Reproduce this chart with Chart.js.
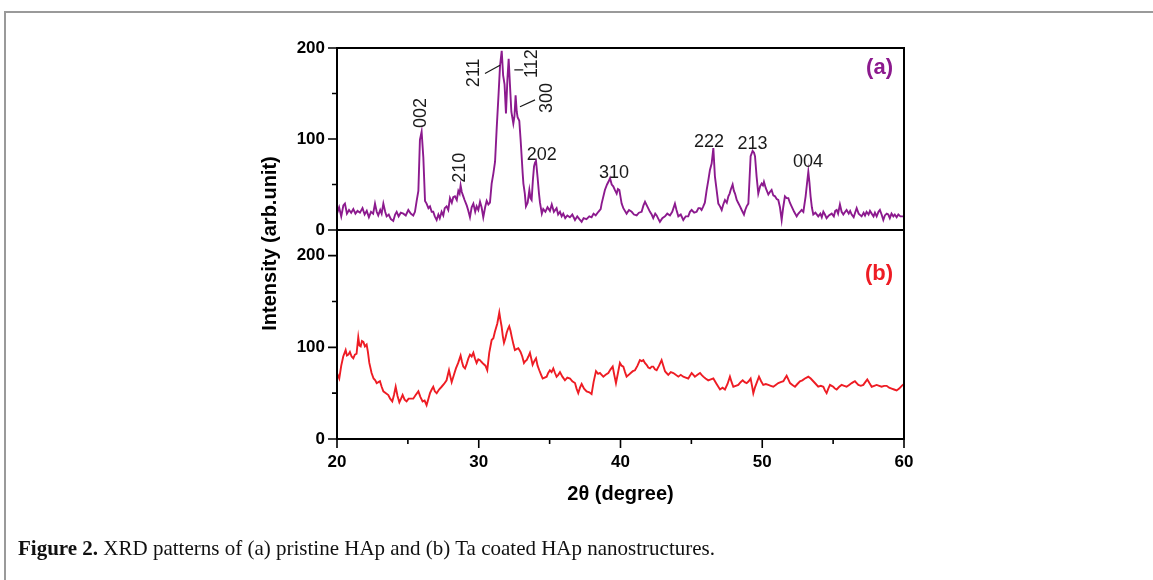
<!DOCTYPE html>
<html>
<head>
<meta charset="utf-8">
<script src="https://cdn.jsdelivr.net/npm/chart.js@4.4.1/dist/chart.umd.min.js"></script>
<style>
    html, body { margin: 0; padding: 0; background: #fff; }
    body { width: 1153px; height: 580px; position: relative; overflow: hidden; }
    #frame { position: absolute; left: 4px; top: 11px; width: 1200px; height: 600px; border-top: 2px solid #9a9a9a; border-left: 2px solid #9a9a9a; }
    #xrd { position: absolute; left: 0; top: 0; }
    #caption { position: absolute; left: 18px; top: 536px; font-family: 'Liberation Serif', 'Times New Roman', serif; font-size: 21px; color: #111; white-space: nowrap; }
</style>
</head>
<body>
<div id="frame"></div>
<canvas id="xrd" width="1153" height="580"></canvas>
<div id="caption"><b>Figure 2.</b> XRD patterns of (a) pristine HAp and (b) Ta coated HAp nanostructures.</div>
<script>
// (a) pristine HAp
const topAngle = [
    20.0, 20.15, 20.3, 20.45, 20.56, 20.7, 20.85, 21.0, 21.15, 21.3, 21.45, 21.62, 21.8, 21.95, 22.1, 22.25, 22.4, 22.55, 22.68, 22.8,
    22.91, 23.05, 23.15, 23.27, 23.4, 23.5, 23.65, 23.8, 23.97, 24.1, 24.21, 24.35, 24.5, 24.68, 24.85, 25.03, 25.2, 25.38, 25.5, 25.62,
    25.74, 25.85, 25.97, 26.09, 26.21, 26.32, 26.45, 26.56, 26.68, 26.79, 26.9, 27.03, 27.15, 27.25, 27.38, 27.5, 27.6, 27.73, 27.85, 27.97,
    28.1, 28.2, 28.32, 28.45, 28.56, 28.65, 28.72, 28.8, 28.91, 29.0, 29.15, 29.25, 29.38, 29.5, 29.62, 29.75, 29.85, 29.97, 30.09, 30.2,
    30.32, 30.45, 30.56, 30.68, 30.79, 30.91, 31.03, 31.15, 31.27, 31.4, 31.5, 31.62, 31.72, 31.82, 31.92, 32.02, 32.11, 32.2, 32.3, 32.44,
    32.52, 32.6, 32.68, 32.74, 32.86, 32.95, 33.03, 33.1, 33.15, 33.25, 33.33, 33.45, 33.57, 33.65, 33.73, 33.82, 33.9, 33.97, 34.04, 34.15,
    34.25, 34.32, 34.45, 34.55, 34.7, 34.85, 35.02, 35.15, 35.3, 35.49, 35.6, 35.73, 35.85, 35.96, 36.1, 36.25, 36.43, 36.6, 36.79, 36.95,
    37.1, 37.26, 37.4, 37.6, 37.8, 37.96, 38.1, 38.25, 38.44, 38.6, 38.67, 38.9, 39.05, 39.15, 39.26, 39.38, 39.49, 39.6, 39.73, 39.82,
    39.92, 40.08, 40.2, 40.43, 40.6, 40.79, 40.95, 41.14, 41.3, 41.49, 41.62, 41.73, 41.89, 42.08, 42.2, 42.31, 42.45, 42.55, 42.68, 42.78,
    42.95, 43.14, 43.3, 43.49, 43.65, 43.84, 43.95, 44.08, 44.25, 44.43, 44.6, 44.78, 44.9, 45.02, 45.2, 45.37, 45.5, 45.61, 45.72, 45.84,
    45.95, 46.08, 46.2, 46.31, 46.43, 46.55, 46.66, 46.78, 46.9, 47.02, 47.14, 47.25, 47.37, 47.5, 47.61, 47.7, 47.77, 47.91, 48.0, 48.08,
    48.2, 48.3, 48.43, 48.55, 48.71, 48.8, 48.9, 49.02, 49.1, 49.18, 49.32, 49.42, 49.49, 49.6, 49.72, 49.85, 49.96, 50.05, 50.12, 50.25,
    50.43, 50.55, 50.66, 50.78, 50.9, 51.02, 51.13, 51.25, 51.37, 51.48, 51.6, 51.72, 51.84, 51.95, 52.07, 52.25, 52.43, 52.55, 52.66, 52.78,
    52.9, 53.06, 53.15, 53.25, 53.33, 53.41, 53.5, 53.6, 53.75, 53.95, 54.1, 54.2, 54.31, 54.42, 54.54, 54.7, 54.9, 55.05, 55.15, 55.25,
    55.35, 55.48, 55.6, 55.72, 55.85, 55.95, 56.1, 56.2, 56.31, 56.45, 56.55, 56.66, 56.8, 57.01, 57.15, 57.25, 57.36, 57.5, 57.6, 57.72,
    57.85, 57.95, 58.07, 58.2, 58.3, 58.42, 58.54, 58.65, 58.78, 58.89, 59.0, 59.12, 59.25, 59.35, 59.48, 59.6, 59.75, 59.88, 60.0
];
const topIntensity = [
    18, 25, 15, 27, 29, 18, 22, 19, 23, 18, 21, 19, 24, 17, 21, 14, 20, 18, 29, 20,
    16, 22, 18, 29, 20, 15, 17, 12, 10, 17, 20, 15, 19, 18, 16, 22, 18, 16, 20, 32,
    43, 99, 108, 80, 32, 29, 24, 26, 20, 20, 15, 11, 17, 13, 20, 16, 24, 26, 22, 35,
    30, 36, 37, 33, 43, 40, 49, 42, 37, 33, 27, 22, 14, 25, 29, 20, 26, 22, 31, 25,
    14, 25, 32, 28, 30, 51, 62, 75, 113, 150, 180, 197, 170, 160, 128, 165, 188, 160, 130, 117,
    125, 148, 130, 124, 120, 100, 80, 62, 51, 40, 26, 30, 44, 35, 33, 55, 70, 74, 76, 58,
    40, 30, 18, 23, 20, 25, 21, 28, 20, 24, 17, 20, 15, 18, 13, 16, 14, 17, 11, 15,
    12, 9, 13, 12, 15, 14, 18, 16, 20, 23, 29, 44, 50, 53, 57, 50, 48, 44, 40, 45,
    44, 29, 24, 18, 22, 20, 17, 16, 19, 20, 27, 31, 26, 20, 17, 13, 18, 16, 12, 9,
    13, 15, 18, 16, 20, 29, 22, 15, 17, 11, 15, 15, 20, 22, 19, 20, 24, 24, 22, 26,
    30, 44, 55, 66, 73, 90, 59, 44, 29, 26, 22, 28, 33, 30, 37, 40, 44, 50, 43, 40,
    33, 30, 26, 22, 17, 22, 26, 29, 55, 81, 87, 85, 81, 59, 40, 48, 51, 49, 53, 46,
    39, 42, 44, 38, 37, 34, 33, 25, 11, 25, 37, 35, 35, 30, 26, 20, 15, 18, 20, 22,
    20, 37, 50, 64, 52, 37, 25, 17, 19, 15, 18, 14, 20, 17, 13, 16, 18, 15, 21, 22,
    18, 28, 20, 17, 20, 22, 18, 21, 17, 14, 19, 24, 18, 15, 19, 16, 20, 17, 21, 18,
    15, 19, 15, 20, 22, 17, 11, 16, 18, 17, 13, 18, 15, 17, 14, 17, 15, 15, 15
];

// (b) Ta coated HAp
const bottomAngle = [
    20.0, 20.16, 20.3, 20.44, 20.61, 20.7, 20.8, 20.91, 21.03, 21.15, 21.26, 21.38, 21.5, 21.58, 21.67, 21.76, 21.86, 21.97, 22.09, 22.18,
    22.28, 22.44, 22.58, 22.7, 22.8, 22.92, 23.03, 23.15, 23.27, 23.45, 23.62, 23.75, 23.9, 24.02, 24.14, 24.27, 24.4, 24.52, 24.63, 24.77,
    24.91, 25.05, 25.2, 25.38, 25.55, 25.74, 25.88, 26.04, 26.18, 26.32, 26.45, 26.56, 26.68, 26.79, 26.9, 27.03, 27.2, 27.38, 27.55, 27.73,
    27.82, 27.9, 28.0, 28.09, 28.25, 28.39, 28.55, 28.72, 28.82, 28.91, 29.03, 29.15, 29.27, 29.38, 29.5, 29.62, 29.73, 29.85, 29.97, 30.09,
    30.2, 30.32, 30.47, 30.6, 30.74, 30.91, 31.03, 31.14, 31.31, 31.45, 31.53, 31.61, 31.7, 31.78, 31.88, 31.97, 32.06, 32.15, 32.24, 32.32,
    32.45, 32.55, 32.67, 32.79, 32.87, 32.95, 33.07, 33.19, 33.28, 33.38, 33.5, 33.61, 33.7, 33.8, 33.92, 34.04, 34.15, 34.27, 34.4, 34.51,
    34.65, 34.79, 34.9, 35.02, 35.14, 35.26, 35.38, 35.49, 35.61, 35.73, 35.9, 36.08, 36.25, 36.44, 36.6, 36.79, 36.9, 37.02, 37.14, 37.26,
    37.43, 37.61, 37.8, 37.96, 38.1, 38.27, 38.42, 38.55, 38.67, 38.79, 38.95, 39.14, 39.3, 39.45, 39.56, 39.68, 39.82, 39.96, 40.08, 40.2,
    40.32, 40.43, 40.58, 40.72, 40.87, 41.02, 41.2, 41.37, 41.5, 41.61, 41.72, 41.84, 41.96, 42.08, 42.2, 42.31, 42.43, 42.55, 42.72, 42.9,
    43.02, 43.14, 43.25, 43.37, 43.55, 43.73, 43.9, 44.08, 44.25, 44.43, 44.6, 44.78, 44.9, 45.02, 45.14, 45.25, 45.43, 45.61, 45.72, 45.84,
    46.0, 46.19, 46.37, 46.55, 46.78, 47.02, 47.2, 47.37, 47.55, 47.72, 47.84, 47.96, 48.13, 48.31, 48.47, 48.62, 48.76, 48.9, 49.04, 49.18,
    49.28, 49.37, 49.48, 49.6, 49.77, 49.92, 50.07, 50.25, 50.43, 50.6, 50.78, 50.95, 51.13, 51.3, 51.49, 51.6, 51.72, 51.84, 51.96, 52.13,
    52.31, 52.48, 52.66, 52.83, 53.01, 53.13, 53.25, 53.42, 53.6, 53.78, 53.95, 54.13, 54.31, 54.42, 54.54, 54.66, 54.78, 54.9, 55.01, 55.13,
    55.25, 55.43, 55.6, 55.78, 55.95, 56.13, 56.31, 56.42, 56.54, 56.66, 56.78, 56.95, 57.13, 57.27, 57.41, 57.56, 57.72, 57.9, 58.07, 58.25,
    58.42, 58.6, 58.78, 58.95, 59.13, 59.3, 59.48, 59.66, 59.84, 60.0
];
const bottomIntensity = [
    72, 66, 80, 90, 97, 91, 92, 95, 90, 88, 92, 93, 111, 102, 101, 107, 106, 101, 103, 95,
    83, 72, 66, 64, 61, 62, 63, 57, 52, 50, 48, 44, 41, 48, 57, 47, 40, 44, 48, 43,
    41, 44, 44, 44, 48, 52, 46, 41, 42, 37, 44, 50, 54, 57, 52, 50, 54, 57, 60, 64,
    70, 75, 68, 62, 70, 77, 83, 91, 84, 79, 77, 82, 88, 92, 90, 94, 88, 83, 87, 86,
    84, 82, 80, 75, 94, 108, 110, 117, 126, 138, 130, 123, 112, 105, 110, 116, 120, 123, 118, 112,
    103, 97, 98, 99, 97, 95, 90, 83, 85, 86, 90, 94, 88, 81, 85, 88, 80, 75, 70, 66,
    67, 68, 72, 75, 73, 77, 72, 68, 70, 73, 68, 64, 67, 66, 63, 61, 55, 50, 56, 60,
    55, 52, 51, 49, 62, 74, 71, 72, 70, 68, 70, 72, 76, 79, 70, 61, 72, 83, 80, 79,
    73, 68, 70, 72, 74, 75, 80, 86, 85, 86, 83, 81, 78, 77, 79, 79, 76, 75, 80, 86,
    80, 74, 72, 70, 73, 72, 70, 68, 70, 68, 67, 66, 69, 72, 70, 68, 70, 72, 70, 68,
    66, 64, 65, 66, 60, 54, 56, 54, 60, 68, 62, 57, 58, 59, 62, 64, 62, 61, 63, 66,
    58, 50, 56, 61, 68, 63, 59, 60, 59, 58, 57, 59, 61, 62, 63, 66, 69, 65, 61, 59,
    57, 60, 63, 64, 66, 67, 68, 66, 63, 60, 57, 58, 57, 53, 50, 55, 59, 58, 57, 55,
    54, 57, 59, 58, 57, 59, 61, 62, 63, 61, 59, 58, 59, 62, 65, 61, 57, 58, 59, 58,
    57, 58, 58, 56, 55, 54, 53, 55, 58, 60
];

const xTicks = [20, 25, 30, 35, 40, 45, 50, 55, 60];
const yTicks = [0, 50, 100, 150, 200];

// Miller indices placed over the peaks of (a)
const peakLabels = [
    { text: '002', angle: 25.96, value: 112, rotated: true },
    { text: '210', angle: 28.68, value: 52, rotated: true },
    { text: '211', angle: 29.66, value: 157, rotated: true },
    { text: '112', angle: 33.74, value: 167, rotated: true },
    { text: '300', angle: 34.85, value: 128.5, rotated: true },
    { text: '202', angle: 34.44, value: 77, rotated: false },
    { text: '310', angle: 39.54, value: 57, rotated: false },
    { text: '222', angle: 46.24, value: 91, rotated: false },
    { text: '213', angle: 49.31, value: 89.5, rotated: false },
    { text: '004', angle: 53.23, value: 69, rotated: false }
];
const leaderLines = [
    [30.44, 172, 31.5, 181],
    [32.51, 176, 33.14, 176],
    [32.91, 135.5, 33.97, 143]
];

const purple = '#8c1a8e';
const red = '#ee1c24';
const sansFamily = '"Liberation Sans", Arial, Helvetica, sans-serif';

const xrdDecor = {
    id: 'xrdDecor',
    afterDatasetsDraw(chart) {
        const ctx = chart.ctx;
        const area = chart.chartArea;
        const x = chart.scales.x;
        const yA = chart.scales.yA;
        const yB = chart.scales.yB;
        ctx.save();

        // panel frames
        ctx.strokeStyle = '#000';
        ctx.lineWidth = 2;
        [yA, yB].forEach(s => ctx.strokeRect(area.left, s.top, area.right - area.left, s.bottom - s.top));

        // outward ticks, long on labelled values
        ctx.lineWidth = 1.6;
        ctx.beginPath();
        xTicks.forEach(v => {
            const px = x.getPixelForValue(v);
            const len = v % 10 === 0 ? 9 : 5;
            ctx.moveTo(px, area.bottom);
            ctx.lineTo(px, area.bottom + len);
        });
        [yA, yB].forEach(s => {
            yTicks.forEach(v => {
                if (v > s.max) return;
                const py = s.getPixelForValue(v);
                const len = v % 100 === 0 ? 9 : 5;
                ctx.moveTo(area.left, py);
                ctx.lineTo(area.left - len, py);
            });
        });
        ctx.stroke();

        // axis titles
        ctx.fillStyle = '#000';
        ctx.font = 'bold 20px ' + sansFamily;
        ctx.textAlign = 'center';
        ctx.textBaseline = 'middle';
        ctx.save();
        ctx.translate(area.left - 67, (area.top + area.bottom) / 2);
        ctx.rotate(-Math.PI / 2);
        ctx.fillText('Intensity (arb.unit)', 0, 0);
        ctx.restore();
        ctx.fillText('2\u03b8 (degree)', (area.left + area.right) / 2, area.bottom + 55);

        // peak indices
        ctx.fillStyle = '#1a1a1a';
        ctx.font = '18px ' + sansFamily;
        peakLabels.forEach(p => {
            const px = x.getPixelForValue(p.angle);
            const py = yA.getPixelForValue(p.value);
            if (p.rotated) {
                ctx.save();
                ctx.translate(px, py);
                ctx.rotate(-Math.PI / 2);
                ctx.textAlign = 'left';
                ctx.textBaseline = 'middle';
                ctx.fillText(p.text, 0, 0);
                ctx.restore();
            } else {
                ctx.textAlign = 'center';
                ctx.textBaseline = 'alphabetic';
                ctx.fillText(p.text, px, py);
            }
        });
        ctx.strokeStyle = '#1a1a1a';
        ctx.lineWidth = 1.2;
        ctx.beginPath();
        leaderLines.forEach(l => {
            ctx.moveTo(x.getPixelForValue(l[0]), yA.getPixelForValue(l[1]));
            ctx.lineTo(x.getPixelForValue(l[2]), yA.getPixelForValue(l[3]));
        });
        ctx.stroke();

        // panel tags
        ctx.font = 'bold 22px ' + sansFamily;
        ctx.textAlign = 'right';
        ctx.textBaseline = 'alphabetic';
        ctx.fillStyle = purple;
        ctx.fillText('(a)', area.right - 11, yA.getPixelForValue(171));
        ctx.fillStyle = red;
        ctx.fillText('(b)', area.right - 11, yB.getPixelForValue(174));
        ctx.restore();
    }
};

const tickFont = { family: sansFamily, weight: 'bold', size: 17 };
const hiddenGrid = { display: true, drawOnChartArea: false, drawTicks: true, tickLength: 9, color: 'rgba(0,0,0,0)' };

function panelAxis(weight, max) {
    return {
        type: 'linear',
        position: 'left',
        stack: 'xrd',
        stackWeight: weight,
        min: 0,
        max: max,
        afterBuildTicks: s => { s.ticks = yTicks.filter(v => v <= max).map(v => ({ value: v })); },
        afterFit: s => { s.width = 70; },
        grid: hiddenGrid,
        border: { display: false },
        ticks: {
            padding: 3,
            color: '#000',
            font: tickFont,
            callback: v => (v % 100 === 0 ? v : '')
        }
    };
}

new Chart(document.getElementById('xrd'), {
    type: 'line',
    data: {
        datasets: [{
            label: '(a) pristine HAp',
            data: topAngle.map((a, i) => ({ x: a, y: topIntensity[i] })),
            xAxisID: 'x',
            yAxisID: 'yA',
            borderColor: purple,
            borderWidth: 1.9,
            pointRadius: 0,
            tension: 0
        },
        {
            label: '(b) Ta coated HAp',
            data: bottomAngle.map((a, i) => ({ x: a, y: bottomIntensity[i] })),
            xAxisID: 'x',
            yAxisID: 'yB',
            borderColor: red,
            borderWidth: 1.9,
            pointRadius: 0,
            tension: 0
        }]
    },
    plugins: [xrdDecor],
    options: {
        responsive: false,
        animation: false,
        layout: {
            padding: { left: 267, right: 249, top: 48, bottom: 81 }
        },
        plugins: {
            legend: { display: false },
            tooltip: { enabled: false }
        },
        scales: {
            x: {
                type: 'linear',
                position: 'bottom',
                min: 20,
                max: 60,
                afterBuildTicks: s => { s.ticks = xTicks.map(v => ({ value: v })); },
                afterFit: s => { s.height = 60; },
                grid: hiddenGrid,
                border: { display: false },
                ticks: {
                    padding: 4,
                    color: '#000',
                    font: tickFont,
                    maxRotation: 0,
                    autoSkip: false,
                    callback: v => (v % 10 === 0 ? v : '')
                }
            },
            // the first axis of a left stack is laid out at the bottom
            yB: panelAxis(209, 228),
            yA: panelAxis(182, 200)
        }
    }
});
</script>
</body>
</html>
